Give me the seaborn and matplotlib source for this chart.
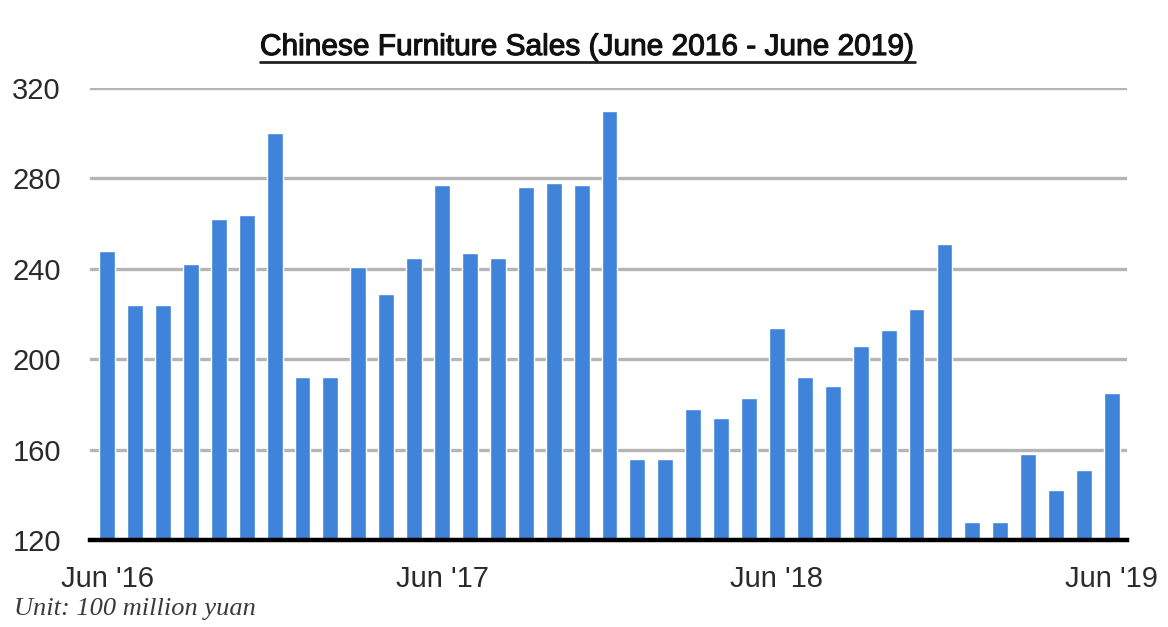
import matplotlib
matplotlib.use("Agg")
import matplotlib.pyplot as plt
import matplotlib.patheffects as pe
import seaborn as sns
import pandas as pd
from matplotlib.lines import Line2D

months = ["Jun '16", "Jul '16", "Aug '16", "Sep '16", "Oct '16", "Nov '16", "Dec '16",
          "Jan '17", "Feb '17", "Mar '17", "Apr '17", "May '17", "Jun '17", "Jul '17",
          "Aug '17", "Sep '17", "Oct '17", "Nov '17", "Dec '17", "Jan '18", "Feb '18",
          "Mar '18", "Apr '18", "May '18", "Jun '18", "Jul '18", "Aug '18", "Sep '18",
          "Oct '18", "Nov '18", "Dec '18", "Jan '19", "Feb '19", "Mar '19", "Apr '19",
          "May '19", "Jun '19"]
sales = [248, 224, 224, 242, 262, 264, 300,
         192, 192, 241, 229, 245, 277, 247,
         245, 276, 278, 277, 310, 156, 156,
         178, 174, 183, 214, 192, 188, 206,
         213, 222, 251, 128, 128, 158, 142,
         151, 185]
tick_labels = ["Jun '16", "Jun '17", "Jun '18", "Jun '19"]
y_ticks = [120, 160, 200, 240, 280, 320]

title = "Chinese Furniture Sales (June 2016 - June 2019)"
unit_note = "Unit: 100 million yuan"

sns.set_style("white")
plt.rcParams['font.family'] = ['Liberation Sans', 'DejaVu Sans']

df = pd.DataFrame({"month": months, "sales": sales})

fig = plt.figure(figsize=(11.68, 6.27), dpi=100)
ax = fig.add_axes([0.0771, 0.1388, 0.8878, 0.7208])

ax.set_axisbelow(True)
for v in y_ticks[1:]:
    ax.axhline(v, color="#b5b5b5", lw=2.4, zorder=0)

sns.barplot(data=df, x="month", y="sales", color="#3f83da", width=0.57,
            saturation=1, ax=ax, zorder=2)

ax.set_ylim(120, 320)
ax.set_xlim(-0.61, len(months) - 1 + 0.54)
ax.set_yticks(y_ticks)
ax.set_yticklabels([str(v) for v in y_ticks])
pos = [months.index(t) for t in tick_labels]
ax.set_xticks(pos)
ax.set_xticklabels(tick_labels)
ax.tick_params(axis="both", length=0, labelsize=21, labelcolor="#2a2a2a")
ax.tick_params(axis="y", pad=21)
ax.tick_params(axis="x", pad=18)
ax.set_xlabel("")
ax.set_ylabel("")
for s in ["top", "right", "left"]:
    ax.spines[s].set_visible(False)
ax.spines["bottom"].set_color("black")
ax.spines["bottom"].set_linewidth(3.2)
ax.spines["bottom"].set_zorder(3)

t = fig.text(0.503, 0.925, title, ha="center", va="center", fontsize=21.5,
             color="#111111", fontweight="normal",
             path_effects=[pe.withStroke(linewidth=0.8, foreground="#111111")])
fig.canvas.draw()
bb = t.get_window_extent().transformed(fig.transFigure.inverted())
fig.add_artist(Line2D([bb.x0, bb.x1], [bb.y0 - 0.001, bb.y0 - 0.001],
                      transform=fig.transFigure, color="#222222", lw=2.0))

fig.text(0.012, 0.029, unit_note, ha="left", va="center", fontsize=19,
         fontstyle="italic", family=["Liberation Serif", "DejaVu Serif"], color="#3a3a3a")

fig.savefig("out.png", dpi=100)
